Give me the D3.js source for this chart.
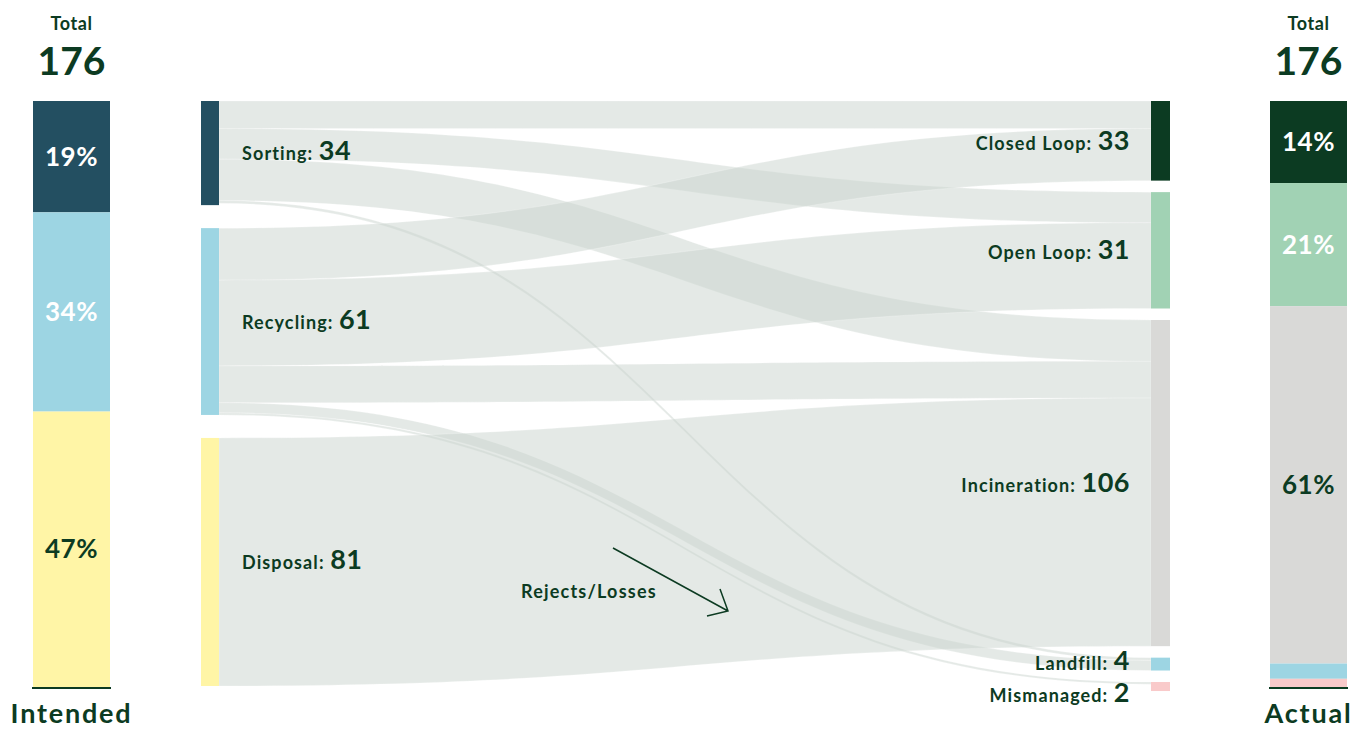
<!DOCTYPE html>
<html>
<head>
<meta charset="utf-8">
<script src="https://cdn.jsdelivr.net/npm/d3@7"></script>
<style>
  body { margin: 0; background: #fff; }
  svg { font-family: Lato, "Open Sans", sans-serif; font-weight: 700; }
</style>
</head>
<body>
<svg id="chart" width="1352" height="729"></svg>
<script>
// ---- data ----
var total = 176;
var sources = ["Sorting", "Recycling", "Disposal"];
var sourceValues = [34, 61, 81];
var targets = ["Closed Loop", "Open Loop", "Incineration", "Landfill", "Mismanaged"];
var targetValues = [33, 31, 106, 4, 2];
var intendedPct = [19, 34, 47];
var actualPct = [14, 21, 61, 2.6, 1.4];
var actualLabels = ["14%", "21%", "61%", "", ""];
var flows = [
  {source: "Sorting",   target: "Closed Loop",  value: 9},
  {source: "Sorting",   target: "Open Loop",    value: 10},
  {source: "Sorting",   target: "Incineration", value: 13.5},
  {source: "Sorting",   target: "Landfill",     value: 0.9},
  {source: "Recycling", target: "Closed Loop",  value: 17},
  {source: "Recycling", target: "Open Loop",    value: 28},
  {source: "Recycling", target: "Incineration", value: 12},
  {source: "Recycling", target: "Landfill",     value: 3.3},
  {source: "Recycling", target: "Mismanaged",   value: 0.7},
  {source: "Disposal",  target: "Incineration", value: 81}
];

// ---- styles ----
var ink = "#0c3b22";
var sourceColors = ["#234f61", "#9dd5e3", "#fff5a6"];
var targetColors = ["#0c3b22", "#a1d2b4", "#d9d9d7", "#9dd5e3", "#f9caca"];
var intendedText = ["#fff", "#fff", ink];
var actualText = ["#fff", "#fff", ink, ink, ink];

var svg = d3.select("#chart");

var topY = 101,
    leftPad = 23,
    rightPad = 11.5,
    nodeW = 18,
    srcX = 201,
    tgtX = 1151;

var k = d3.scaleLinear().domain([0, total]).range([0, 539]);

// source nodes
var y = topY;
var srcNodes = sources.map(function(name, i) {
  var n = {name: name, value: sourceValues[i], color: sourceColors[i], h: k(sourceValues[i]), y: y};
  n.cursor = y;
  y += n.h + leftPad;
  return n;
});

// target nodes sized by what flows into them
y = topY;
var tgtNodes = targets.map(function(name, i) {
  var sum = d3.sum(flows.filter(function(f) { return f.target === name; }), function(f) { return f.value; });
  var n = {name: name, value: targetValues[i], color: targetColors[i], h: Math.max(k(sum), 9), y: y};
  n.cursor = y;
  y += n.h + rightPad;
  return n;
});

function byName(list, name) {
  return list.filter(function(n) { return n.name === name; })[0];
}

// links
var links = flows.map(function(f) {
  var s = byName(srcNodes, f.source), t = byName(tgtNodes, f.target);
  var w = k(f.value);
  var l = {sy0: s.cursor, sy1: s.cursor + w, ty0: t.cursor, ty1: t.cursor + w};
  s.cursor += w;
  t.cursor += w;
  return l;
});

function linkPath(l) {
  var xa = srcX + nodeW, xb = tgtX, xm = (xa + xb) / 2;
  var p = d3.path();
  p.moveTo(xa, l.sy0);
  p.bezierCurveTo(xm, l.sy0, xm, l.ty0, xb, l.ty0);
  p.lineTo(xb, l.ty1);
  p.bezierCurveTo(xm, l.ty1, xm, l.sy1, xa, l.sy1);
  p.closePath();
  return p.toString();
}

svg.append("g").selectAll("path")
  .data(links)
  .enter()
  .append("path")
  .attr("d", linkPath)
  .attr("fill", "#c9d3cd")
  .attr("fill-opacity", 0.5)
  .attr("stroke", "#fff")
  .attr("stroke-width", 0.4)
  .attr("stroke-opacity", 0.6);

svg.append("g").selectAll("rect")
  .data(srcNodes)
  .enter()
  .append("rect")
  .attr("x", srcX).attr("y", function(d) { return d.y; })
  .attr("width", nodeW).attr("height", function(d) { return d.h; })
  .attr("fill", function(d) { return d.color; });

svg.append("g").selectAll("rect")
  .data(tgtNodes)
  .enter()
  .append("rect")
  .attr("x", tgtX).attr("y", function(d) { return d.y; })
  .attr("width", nodeW + 1).attr("height", function(d) { return d.h; })
  .attr("fill", function(d) { return d.color; });

// node labels
var srcLab = svg.append("g").selectAll("text")
  .data(srcNodes)
  .enter()
  .append("text")
  .attr("x", 242)
  .attr("y", function(d) { return d.y + d.h / 2 + 7; })
  .attr("fill", ink);
srcLab.append("tspan").attr("font-size", 18).attr("letter-spacing", 1.1).text(function(d) { return d.name + ": "; });
srcLab.append("tspan").attr("font-size", 27).attr("letter-spacing", 0.5).text(function(d) { return d.value; });

var lastY = -100;
tgtNodes.forEach(function(d) {
  var cy = Math.max(d.y + d.h / 2, lastY + 29);
  d.labelY = cy;
  lastY = cy;
});
var tgtLab = svg.append("g").selectAll("text")
  .data(tgtNodes)
  .enter()
  .append("text")
  .attr("x", 1130)
  .attr("y", function(d, i) { return d.labelY + (i === 3 ? 6 : 9); })
  .attr("text-anchor", "end")
  .attr("fill", ink);
tgtLab.append("tspan").attr("font-size", 18).attr("letter-spacing", 1.1).text(function(d) { return d.name + ": "; });
tgtLab.append("tspan").attr("font-size", 27).attr("letter-spacing", 0.5).text(function(d) { return d.value; });

// stacked percentage bars
var barY = d3.scaleLinear().domain([0, 100]).range([topY, 687]);

function stackBar(x, pcts, colors, labels, textColors, title) {
  var ends = d3.cumsum(pcts);
  var segs = pcts.map(function(p, i) {
    return {y0: barY(ends[i] - p), y1: barY(ends[i]), color: colors[i], label: labels[i], tc: textColors[i]};
  });
  var g = svg.append("g");
  g.selectAll("rect")
    .data(segs)
    .enter()
    .append("rect")
    .attr("x", x).attr("y", function(d) { return d.y0; })
    .attr("width", 77).attr("height", function(d) { return d.y1 - d.y0; })
    .attr("fill", function(d) { return d.color; });
  g.selectAll("text.pct")
    .data(segs)
    .enter()
    .append("text")
    .attr("class", "pct")
    .attr("x", x + 38.5)
    .attr("y", function(d) { return (d.y0 + d.y1) / 2 + 9; })
    .attr("text-anchor", "middle")
    .attr("font-size", 26)
    .attr("letter-spacing", 0.5)
    .attr("fill", function(d) { return d.tc; })
    .text(function(d) { return d.label; });
  g.append("line")
    .attr("x1", x - 1).attr("x2", x + 78)
    .attr("y1", 688).attr("y2", 688)
    .attr("stroke", ink).attr("stroke-width", 2);
  g.append("text")
    .attr("x", x + 38.5).attr("y", 30)
    .attr("text-anchor", "middle").attr("font-size", 18).attr("letter-spacing", 0.6).attr("fill", ink)
    .text("Total");
  g.append("text")
    .attr("x", x + 38.5).attr("y", 75)
    .attr("text-anchor", "middle").attr("font-size", 39).attr("fill", ink)
    .text(total);
  g.append("text")
    .attr("x", x + 38.5).attr("y", 723)
    .attr("text-anchor", "middle").attr("font-size", 27).attr("letter-spacing", 1.8).attr("fill", ink)
    .text(title);
}

stackBar(33, intendedPct, sourceColors, intendedPct.map(function(p) { return p + "%"; }), intendedText, "Intended");
stackBar(1270, actualPct, targetColors, actualLabels, actualText, "Actual");

// annotation
svg.append("text")
  .attr("x", 521).attr("y", 598)
  .attr("font-size", 18).attr("letter-spacing", 1.2).attr("fill", ink)
  .text("Rejects/Losses");
svg.append("path")
  .attr("d", "M613,548L728,611M707,616L728,611L720,589")
  .attr("fill", "none")
  .attr("stroke", ink)
  .attr("stroke-width", 1.5);
</script>
</body>
</html>
